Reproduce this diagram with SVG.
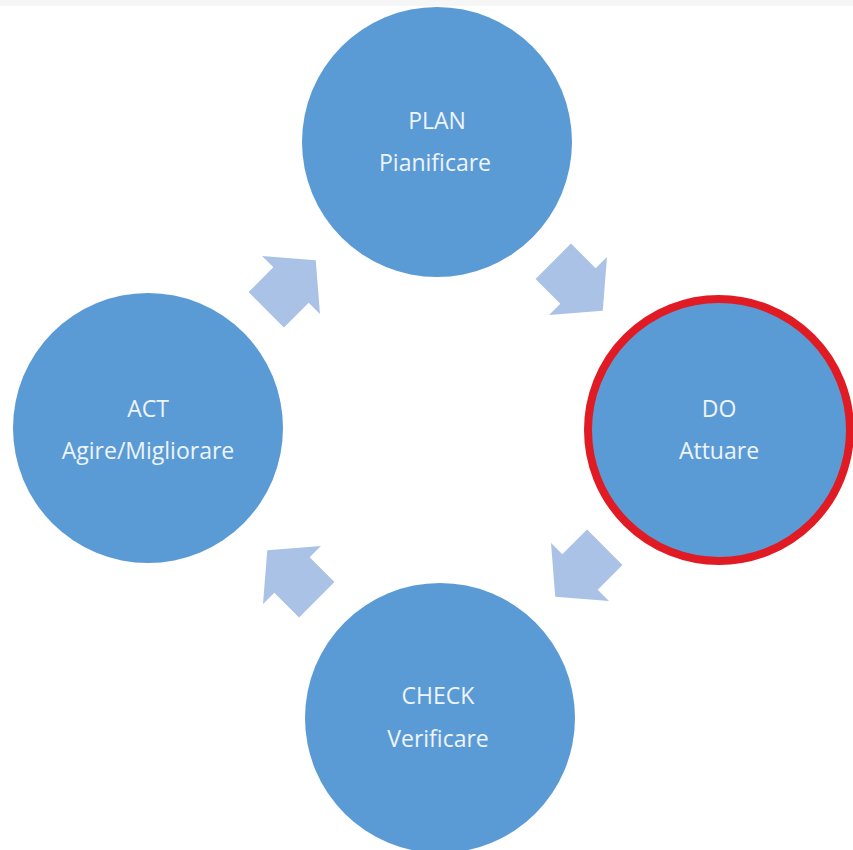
<svg xmlns="http://www.w3.org/2000/svg" width="853" height="850" viewBox="0 0 853 850">
<defs>
<style>
.node{fill:#5b9bd5;}
.lbl{font-family:"Open Sans","Liberation Sans",sans-serif;font-size:23px;fill:#eef4fb;text-anchor:middle;}
.arr{fill:#aac2e5;}
</style>
<polygon id="blk" points="-35,-25 0,-25 0,-41 35,0 0,41 0,25 -35,25"/>
</defs>
<rect x="0" y="0" width="853" height="850" fill="#ffffff"/>
<rect x="0" y="0" width="853" height="6" fill="#f6f6f6"/>
<g id="connectors">
<use href="#blk" class="arr" transform="translate(291,285) rotate(-45)"/>
<use href="#blk" class="arr" transform="translate(578,286) rotate(45)"/>
<use href="#blk" class="arr" transform="translate(580,572) rotate(135)"/>
<use href="#blk" class="arr" transform="translate(292,575) rotate(-135)"/>
</g>
<g id="plan">
<circle class="node" cx="437" cy="142" r="135"/>
<text class="lbl" x="437" y="129">PLAN</text>
<text class="lbl" x="435" y="171">Pianificare</text>
</g>
<g id="do">
<circle class="node" cx="719" cy="430" r="131" stroke="#e01b24" stroke-width="8"/>
<text class="lbl" x="719" y="417">DO</text>
<text class="lbl" x="719" y="459">Attuare</text>
</g>
<g id="check">
<circle class="node" cx="440" cy="718" r="135"/>
<text class="lbl" x="438" y="704">CHECK</text>
<text class="lbl" x="438" y="747">Verificare</text>
</g>
<g id="act">
<circle class="node" cx="148" cy="428" r="135"/>
<text class="lbl" x="148" y="417">ACT</text>
<text class="lbl" x="148" y="459">Agire/Migliorare</text>
</g>
</svg>
